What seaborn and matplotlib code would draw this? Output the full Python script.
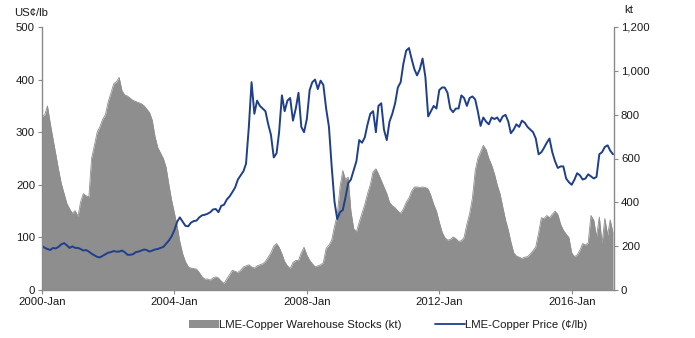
import numpy as np
import pandas as pd
import matplotlib
matplotlib.use("Agg")
import matplotlib.pyplot as plt
import matplotlib.dates as mdates
from matplotlib.patches import Patch
from matplotlib.lines import Line2D
import seaborn as sns

# Monthly data, 2000-Jan .. 2017-Apr
start_month = "2000-01-01"
price_cents_lb = [
    84, 80, 78, 76, 80, 79, 82, 87, 89, 85, 80, 83,
    80, 80, 78, 75, 76, 73, 69, 66, 63, 62, 65, 68,
    71, 72, 74, 73, 73, 75, 72, 67, 67, 68, 72, 73,
    75, 77, 76, 73, 75, 77, 78, 80, 82, 88, 94, 102,
    114, 130, 138, 130, 122, 121, 128, 131, 132, 138, 142, 143,
    145, 148, 153, 154, 148, 160, 162, 172, 178, 186, 195, 210,
    218, 226, 240, 310, 395, 335, 360, 350, 345, 340, 315, 295,
    252, 260, 300, 370, 340, 360, 365, 322, 345, 375, 310, 300,
    325, 380, 395, 400, 382, 398, 390, 345, 310, 235, 168, 135,
    148, 152, 175, 203, 210, 228, 245, 285, 280, 290, 315, 335,
    340, 300, 350, 355, 305, 285, 320, 335, 355, 385, 395, 430,
    455, 460, 440, 420, 408, 420, 440, 405, 330, 340, 350, 345,
    380, 385, 385, 375, 345, 338, 345, 345, 370, 365, 350, 365,
    368, 362, 340, 312, 328, 320, 315, 328, 325, 328, 320, 330,
    333, 320, 298, 305, 315, 310, 322, 318, 310, 305, 300, 288,
    258, 262, 270, 280, 288, 262, 245, 232, 235, 235, 212, 205,
    200, 210, 222, 218, 210, 212, 220, 216, 212, 215, 258, 262,
    272, 275, 265, 258,
]
stocks_kt = [
    790, 800, 840, 760, 690, 620, 550, 485, 440, 395, 370, 350,
    362, 335, 400, 440, 430, 425, 600, 660, 720, 745, 780, 800,
    860, 900, 940, 950, 970, 910, 890, 885, 875, 865, 860, 855,
    850, 840, 826, 810, 775, 700, 650, 625, 600, 560, 480, 410,
    350, 290, 220, 165, 130, 106, 100, 98, 95, 80, 60, 50,
    50, 45, 55, 60, 55, 40, 30, 50, 70, 90, 85, 80,
    90, 105, 110, 115, 105, 100, 110, 115, 120, 130, 150, 170,
    200, 212, 195, 165, 130, 110, 98, 125, 135, 135, 170, 195,
    160, 136, 120, 106, 110, 115, 125, 190, 205, 227, 290, 340,
    470, 545, 505, 515, 360, 280, 265, 310, 350, 390, 440, 480,
    540, 553, 530, 500, 470, 440, 400, 385, 375, 360, 350, 370,
    400, 420, 450, 470, 470, 468, 470, 468, 460, 430, 390, 360,
    310, 265, 240, 228, 230, 242, 235, 222, 225, 240, 300, 348,
    420, 545, 600, 630, 660, 640, 600, 570, 530, 480, 440, 380,
    320, 273, 220, 170, 155, 150, 144, 150, 152, 165, 180, 197,
    260, 330, 325, 340, 330, 345, 360, 345, 300, 273, 255, 240,
    170, 152, 160, 182, 212, 205, 215, 340, 318, 242, 333, 212,
    326, 250, 320, 260,
]
left_ticks = [0, 100, 200, 300, 400, 500]
right_ticks = [0, 200, 400, 600, 800, 1000, 1200]
right_tick_labels = ["0", "200", "400", "600", "800", "1,000", "1,200"]
x_tick_years = [2000, 2004, 2008, 2012, 2016]
x_tick_labels = ["2000-Jan", "2004-Jan", "2008-Jan", "2012-Jan", "2016-Jan"]
stocks_label = "LME-Copper Warehouse Stocks (kt)"
price_label = "LME-Copper Price (\u00a2/lb)"

dates = pd.date_range(start_month, periods=len(price_cents_lb), freq="MS")
df = pd.DataFrame({"date": dates, "price": price_cents_lb, "stocks": stocks_kt})

sns.set_style("white")
plt.rcParams["font.family"] = ["Liberation Sans", "DejaVu Sans"]

GRAY = "#8e8e8e"
BLUE = "#1f3f8c"
SPINE = "#8a8a8a"
TXT = "#1a1a1a"
FS = 8.2

fig = plt.figure(figsize=(6.95, 3.38), dpi=100)
ax = fig.add_axes([42 / 695, 1 - 290 / 338, (614 - 42) / 695, (290 - 27) / 338])
ax2 = ax.twinx()

# stocks area on right axis
ax2.fill_between(df["date"], 0, df["stocks"], color=GRAY, linewidth=0, zorder=1)
sns.lineplot(data=df, x="date", y="stocks", ax=ax2, color=GRAY, linewidth=0.6, legend=False)

# price line on left axis
sns.lineplot(data=df, x="date", y="price", ax=ax, color=BLUE, linewidth=1.4, legend=False)

ax.set_zorder(ax2.get_zorder() + 1)
ax.patch.set_visible(False)

xmin = pd.Timestamp("2000-01-01")
xmax = pd.Timestamp("2017-04-12")
ax.set_xlim(xmin, xmax)
ax.set_ylim(0, 500)
ax2.set_ylim(0, 1200)

ax.set_yticks(left_ticks)
ax.set_yticklabels([str(t) for t in left_ticks])
ax2.set_yticks(right_ticks)
ax2.set_yticklabels(right_tick_labels)
ax.set_xticks([pd.Timestamp(f"{y}-01-01") for y in x_tick_years])
ax.set_xticklabels(x_tick_labels)

for a in (ax, ax2):
    a.set_xlabel("")
    a.set_ylabel("")
    a.grid(False)
    for s in a.spines.values():
        s.set_color(SPINE)
        s.set_linewidth(1.0)
    a.spines["top"].set_visible(False)

ax.spines["right"].set_visible(False)
ax2.spines["left"].set_visible(False)
ax2.spines["bottom"].set_visible(False)

ax.tick_params(axis="y", which="both", left=True, length=3, width=0.8, color=SPINE,
               labelsize=FS, labelcolor=TXT, pad=2)
ax.tick_params(axis="x", which="both", bottom=True, length=3, width=0.8, color=SPINE,
               labelsize=FS, labelcolor=TXT, pad=2)
ax2.tick_params(axis="y", which="both", right=True, length=3, width=0.8, color=SPINE,
                labelsize=FS, labelcolor=TXT, pad=2)

fig.text(14 / 695, 1 - 13 / 338, "US\u00a2/lb", fontsize=FS, color=TXT, va="center", ha="left")
fig.text(624 / 695, 1 - 10 / 338, "kt", fontsize=FS, color=TXT, va="center", ha="left")

handles = [Patch(facecolor=GRAY, edgecolor="none"),
           Line2D([0], [0], color=BLUE, linewidth=1.3)]
fig.legend(handles, [stocks_label, price_label], loc="center",
           bbox_to_anchor=(388 / 695, 1 - 325 / 338), ncol=2, frameon=False,
           fontsize=FS, handlelength=2.6, handleheight=0.6, handletextpad=0.0,
           columnspacing=3.0, labelcolor=TXT)

fig.savefig("out.png", dpi=100)
